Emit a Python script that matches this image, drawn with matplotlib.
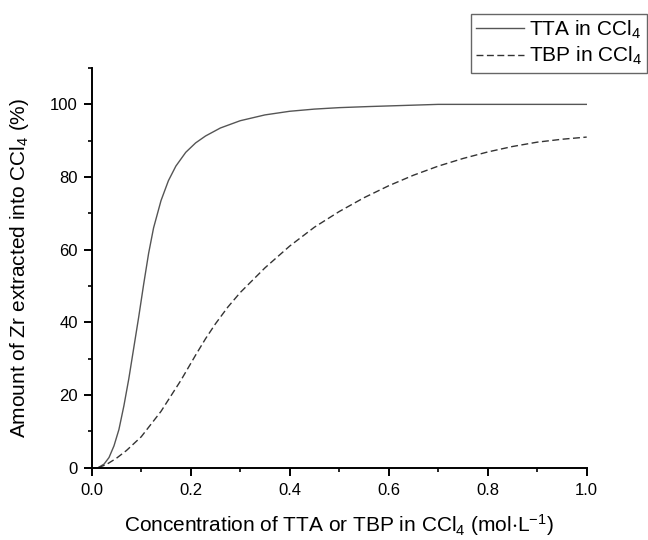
import matplotlib
matplotlib.use("Agg")
import matplotlib.pyplot as plt
from matplotlib.ticker import MultipleLocator

plt.rcParams['font.family'] = ['Liberation Sans', 'DejaVu Sans']
plt.rcParams['mathtext.fontset'] = 'custom'
plt.rcParams['mathtext.rm'] = 'Liberation Sans'
plt.rcParams['mathtext.default'] = 'regular'

# Extraction of Zr into CCl4 vs extractant concentration
tta_conc = [0.013, 0.025, 0.035, 0.045, 0.055, 0.065, 0.075, 0.085, 0.095, 0.105,
            0.115, 0.125, 0.14, 0.155, 0.17, 0.19, 0.21, 0.23, 0.26, 0.30,
            0.35, 0.40, 0.45, 0.50, 0.56, 0.63, 0.70, 1.0]
tta_pct = [0, 1.0, 2.8, 6, 10.5, 17, 24.5, 33, 41.5, 50.5,
           59, 66, 73.5, 79, 83, 86.8, 89.4, 91.3, 93.5, 95.5,
           97.1, 98.1, 98.7, 99.1, 99.4, 99.7, 100, 100]

tbp_conc = [0.013, 0.03, 0.05, 0.07, 0.10, 0.14, 0.18, 0.21, 0.23, 0.25,
            0.275, 0.30, 0.35, 0.40, 0.45, 0.50, 0.55, 0.60, 0.65, 0.70,
            0.75, 0.80, 0.85, 0.90, 0.95, 1.0]
tbp_pct = [0, 0.9, 2.6, 4.7, 8.5, 15.5, 24, 31, 35.5, 39.6,
           44.2, 48.2, 55, 61, 66.2, 70.5, 74.3, 77.6, 80.5, 83.0,
           85.1, 86.9, 88.4, 89.6, 90.4, 91.0]

fig = plt.figure(figsize=(6.48, 5.4), dpi=100)
ax = fig.add_axes([0.1415, 0.1339, 0.7639, 0.7401])

ax.plot(tta_conc, tta_pct, color='#555555', lw=1.0, label='TTA in CCl$_4$')
ax.plot(tbp_conc, tbp_pct, color='#333333', lw=1.0, linestyle=(0, (5, 2.5)),
        label='TBP in CCl$_4$')

ax.set_xlim(0, 1.0)
ax.set_ylim(0, 110)
ax.xaxis.set_major_locator(MultipleLocator(0.2))
ax.xaxis.set_minor_locator(MultipleLocator(0.1))
ax.yaxis.set_minor_locator(MultipleLocator(10))
ax.set_yticks([0, 20, 40, 60, 80, 100])

for side in ['top', 'right']:
    ax.spines[side].set_visible(False)
for side in ['left', 'bottom']:
    ax.spines[side].set_linewidth(1.4)
ax.tick_params(which='major', direction='out', length=6, width=1.4, labelsize=12)
ax.tick_params(which='minor', direction='out', length=3, width=1.2)
ax.tick_params(axis='y', which='major', pad=4)
ax.tick_params(axis='x', which='major', pad=5)

ax.set_xlabel('Concentration of TTA or TBP in CCl$_4$ (mol$\\cdot$L$^{-1}$)',
              fontsize=15, labelpad=10)
ax.set_ylabel('Amount of Zr extracted into CCl$_4$ (%)', fontsize=15, labelpad=14)

leg = fig.legend(loc='upper right', bbox_to_anchor=(0.999, 0.975), fontsize=15,
                 handlelength=2.3, fancybox=False, framealpha=1,
                 borderaxespad=0, borderpad=0.25, labelspacing=0.2, handletextpad=0.25)
leg.get_frame().set_edgecolor('#666666')
leg.get_frame().set_linewidth(1.0)

fig.savefig('out.png', dpi=100)
